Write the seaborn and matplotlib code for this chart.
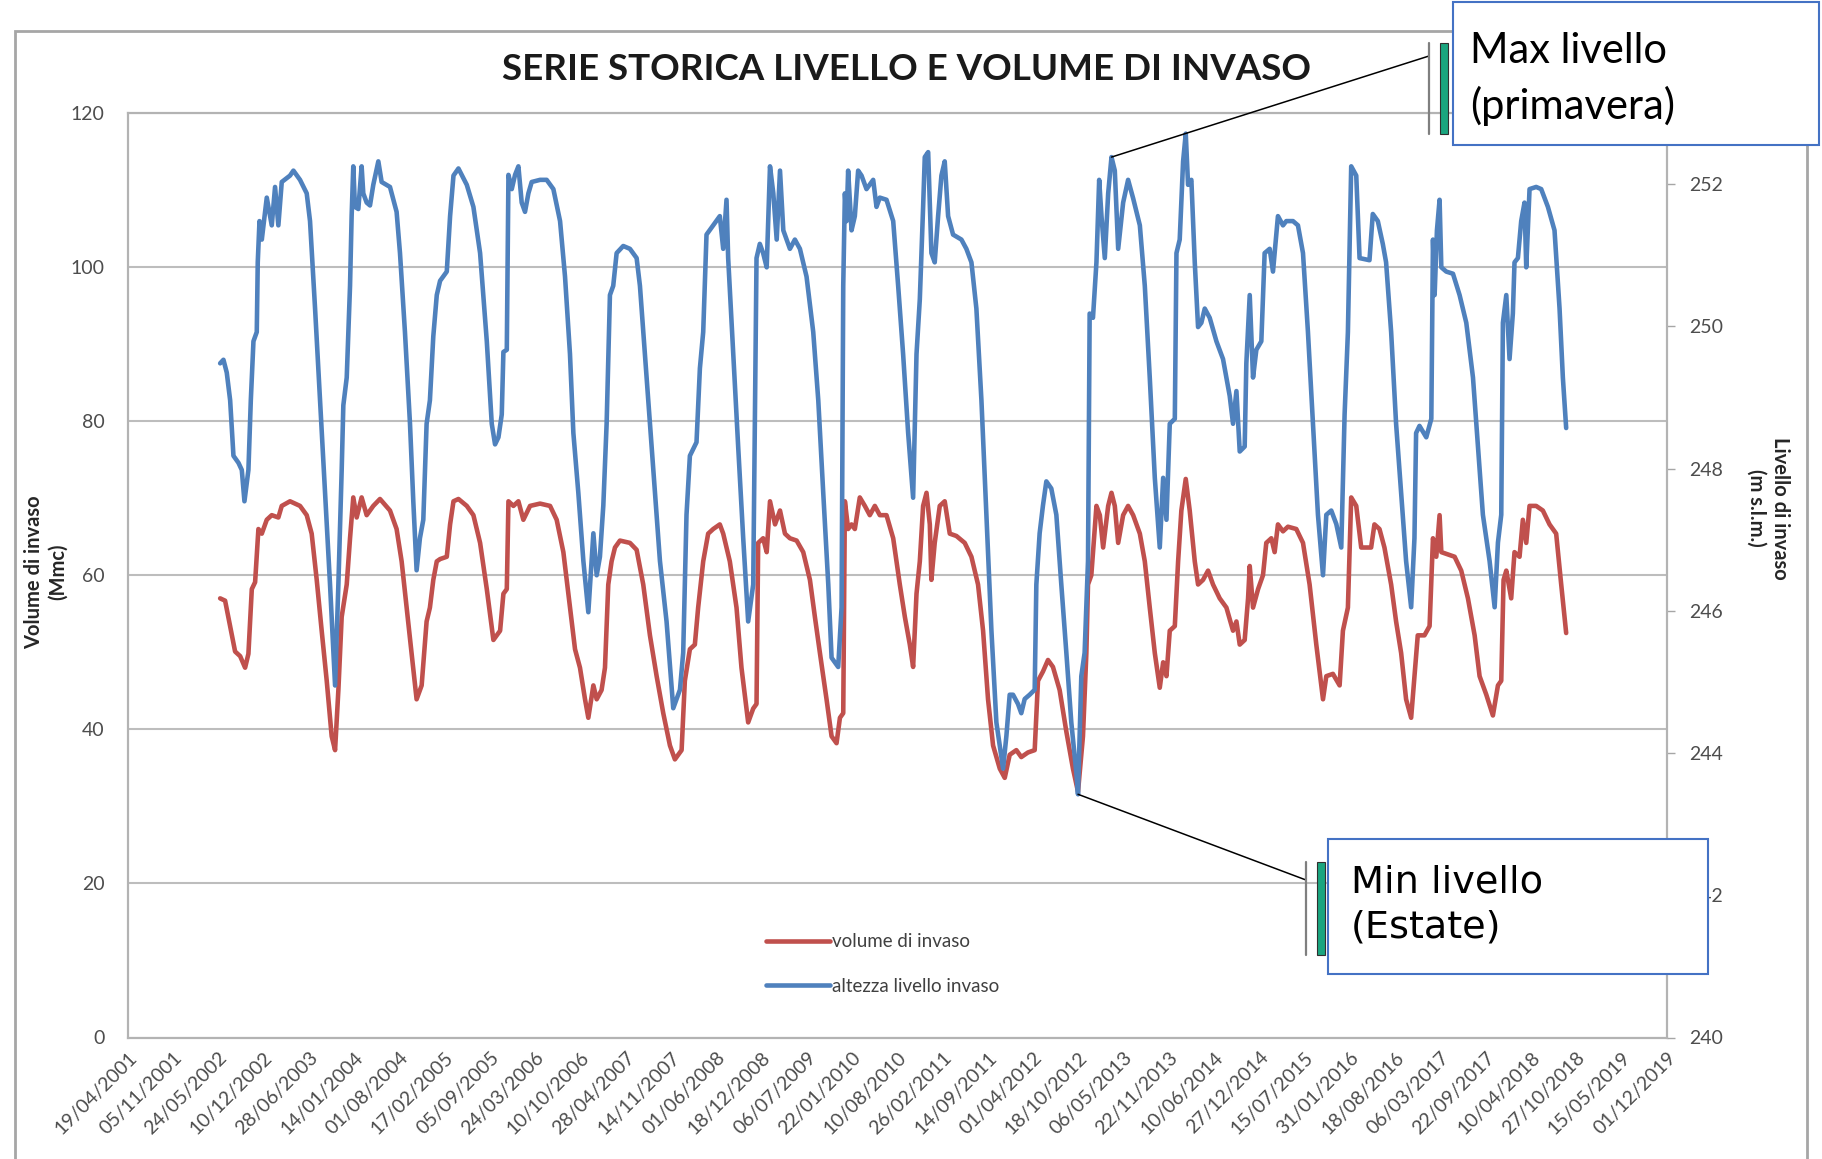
import numpy as np
import pandas as pd
import matplotlib
matplotlib.use("Agg")
import matplotlib.pyplot as plt
from matplotlib.patches import Rectangle
from matplotlib.lines import Line2D
import seaborn as sns

# --- data (dates as decimal years) ---
# volume di invaso (Mmc), left axis
vol_anno = [
    2002.411, 2002.471, 2002.532, 2002.592, 2002.653, 2002.713, 2002.753, 2002.794,
    2002.834, 2002.874, 2002.915, 2002.975, 2003.036, 2003.116, 2003.157, 2003.257,
    2003.378, 2003.459, 2003.519, 2003.580, 2003.640, 2003.701, 2003.761, 2003.802,
    2003.842, 2003.882, 2003.943, 2003.983, 2004.023, 2004.064, 2004.124, 2004.185,
    2004.265, 2004.346, 2004.467, 2004.547, 2004.608, 2004.668, 2004.729, 2004.789,
    2004.850, 2004.910, 2004.950, 2004.991, 2005.031, 2005.071, 2005.152, 2005.192,
    2005.233, 2005.293, 2005.394, 2005.474, 2005.555, 2005.636, 2005.716,
    2005.797, 2005.837, 2005.878, 2005.898, 2005.958, 2006.019, 2006.079, 2006.160,
    2006.281, 2006.402, 2006.482, 2006.563, 2006.643, 2006.704, 2006.764, 2006.825,
    2006.865, 2006.926, 2006.966, 2007.026, 2007.067, 2007.107, 2007.147, 2007.188,
    2007.248, 2007.369, 2007.450, 2007.530, 2007.611, 2007.692, 2007.772, 2007.853,
    2007.913, 2007.994, 2008.034, 2008.095, 2008.155, 2008.195, 2008.256, 2008.316,
    2008.377, 2008.457, 2008.498, 2008.578, 2008.659, 2008.719, 2008.800, 2008.861,
    2008.901, 2008.921, 2008.981, 2009.022, 2009.062, 2009.123, 2009.183, 2009.243,
    2009.303, 2009.384, 2009.464, 2009.545, 2009.605, 2009.666, 2009.746, 2009.807,
    2009.867, 2009.908, 2009.948, 2009.968, 2010.008, 2010.049, 2010.089, 2010.149,
    2010.210, 2010.270, 2010.331, 2010.391, 2010.472, 2010.553, 2010.633, 2010.694,
    2010.754, 2010.794, 2010.835, 2010.875, 2010.915, 2010.956, 2010.996, 2011.016,
    2011.056, 2011.117, 2011.177, 2011.238, 2011.318, 2011.419, 2011.500, 2011.580,
    2011.641, 2011.701, 2011.762, 2011.843, 2011.903, 2011.963, 2012.044, 2012.104,
    2012.185, 2012.266, 2012.306, 2012.366, 2012.427, 2012.487, 2012.568, 2012.649,
    2012.729,
    2012.790, 2012.850, 2012.891, 2012.911, 2012.951, 2013.011, 2013.052, 2013.092,
    2013.153, 2013.193, 2013.233, 2013.274, 2013.334, 2013.394, 2013.455, 2013.536,
    2013.596, 2013.656, 2013.717, 2013.777, 2013.818, 2013.858, 2013.898, 2013.959,
    2013.999, 2014.039, 2014.092, 2014.140, 2014.201, 2014.241, 2014.301, 2014.362,
    2014.422, 2014.503, 2014.584, 2014.664, 2014.705, 2014.745, 2014.805, 2014.846,
    2014.866, 2014.906, 2014.967, 2015.027, 2015.067, 2015.128, 2015.168, 2015.208,
    2015.269, 2015.329, 2015.430, 2015.511, 2015.591, 2015.672, 2015.753, 2015.793,
    2015.873, 2015.954, 2015.994, 2016.055, 2016.095, 2016.156, 2016.216,
    2016.336, 2016.376, 2016.437, 2016.497, 2016.578, 2016.638, 2016.699, 2016.759,
    2016.820, 2016.860, 2016.900, 2016.981, 2017.041, 2017.082, 2017.122, 2017.162,
    2017.183, 2017.263, 2017.344, 2017.424, 2017.505, 2017.586, 2017.646, 2017.727,
    2017.807, 2017.868, 2017.908, 2017.936, 2017.969, 2018.029, 2018.069, 2018.130,
    2018.170, 2018.211, 2018.251, 2018.331, 2018.412, 2018.493, 2018.573, 2018.634,
    2018.694,
]
vol_mmc = [
    57.0, 56.7, 53.4, 50.1, 49.5, 48.0, 49.8, 58.2,
    59.1, 66.0, 65.4, 67.2, 67.8, 67.5, 69.0, 69.6,
    69.0, 67.8, 65.4, 59.4, 52.8, 46.3, 39.1, 37.3,
    45.1, 54.6, 58.8, 64.8, 70.1, 67.5, 70.1, 67.8,
    69.0, 69.9, 68.4, 66.0, 61.8, 55.8, 49.8, 43.9,
    45.7, 54.0, 55.8, 59.4, 61.8, 62.1, 62.4, 66.6,
    69.6, 69.9, 69.0, 67.8, 64.2, 58.2, 51.6,
    52.8, 57.6, 58.2, 69.6, 69.0, 69.6, 67.2, 69.0,
    69.3, 69.0, 67.2, 63.0, 55.8, 50.4, 48.0, 43.9,
    41.5, 45.7, 43.9, 45.1, 48.0, 58.8, 61.8, 63.6,
    64.5, 64.2, 63.3, 58.8, 52.2, 46.9, 42.1, 37.9,
    36.1, 37.3, 46.3, 50.4, 51.0, 55.8, 61.8, 65.4,
    66.0, 66.6, 65.4, 61.8, 55.8, 48.0, 40.9, 42.7,
    43.3, 64.2, 64.8, 63.0, 69.6, 66.6, 68.4, 65.4,
    64.8, 64.5, 63.0, 59.4, 54.6, 49.9, 43.9, 39.1,
    38.2, 41.5, 42.1, 69.6, 66.0, 66.6, 66.0, 70.1,
    69.0, 67.8, 69.0, 67.8, 67.8, 64.8, 58.8, 54.6,
    51.0, 48.1, 57.6, 61.8, 69.0, 70.7, 66.6, 59.4,
    64.2, 69.0, 69.6, 65.4, 65.1, 64.2, 62.4, 58.8,
    52.8, 43.9, 37.9, 34.9, 33.7, 36.7, 37.3, 36.4,
    37.0, 37.3, 46.3, 47.5, 49.0, 48.1, 45.1, 39.7,
    34.9,
    31.9, 39.1, 49.9, 58.8, 60.0, 69.0, 67.8, 63.6,
    69.0, 70.7, 69.0, 64.2, 67.8, 69.0, 67.8, 65.4,
    61.8, 55.8, 49.9, 45.4, 48.7, 46.9, 52.8, 53.4,
    61.8, 68.4, 72.5, 68.4, 61.8, 58.8, 59.4, 60.6,
    58.8, 57.0, 55.8, 52.8, 54.0, 51.0, 51.6, 57.0,
    61.2, 55.8, 58.2, 60.0, 64.2, 64.8, 63.0, 66.6,
    65.7, 66.3, 66.0, 64.2, 58.8, 51.0, 43.9, 46.9,
    47.2, 45.7, 52.8, 55.8, 70.1, 69.0, 63.6,
    63.6, 66.6, 66.0, 63.6, 58.8, 54.0, 49.9, 43.9,
    41.5, 46.9, 52.2, 52.2, 53.4, 64.8, 62.4, 67.8,
    63.0, 62.7, 62.4, 60.6, 57.0, 52.2, 46.9, 44.5,
    41.8, 45.7, 46.3, 59.4, 60.6, 57.0, 63.0, 62.4,
    67.2, 64.2, 69.0, 69.0, 68.4, 66.6, 65.4, 58.8,
    52.5,
]

# altezza livello invaso (m s.l.m.), right axis
liv_anno = [
    2002.411, 2002.451, 2002.491, 2002.532, 2002.572, 2002.633, 2002.673, 2002.705,
    2002.753, 2002.782, 2002.814, 2002.854, 2002.866, 2002.887, 2002.915, 2002.955,
    2002.975, 2003.036, 2003.076, 2003.116, 2003.157, 2003.257, 2003.298, 2003.378,
    2003.459, 2003.499, 2003.560, 2003.620, 2003.681, 2003.741, 2003.802, 2003.842,
    2003.882, 2003.902, 2003.943, 2003.983, 2004.003, 2004.023, 2004.043, 2004.084,
    2004.124, 2004.144, 2004.185, 2004.225, 2004.265, 2004.326, 2004.366, 2004.467,
    2004.547, 2004.588, 2004.648, 2004.709, 2004.749, 2004.789, 2004.829, 2004.870,
    2004.910, 2004.950, 2004.991, 2005.031, 2005.071, 2005.152, 2005.192, 2005.233,
    2005.293, 2005.394, 2005.474, 2005.555, 2005.636, 2005.696, 2005.736,
    2005.777, 2005.817, 2005.837, 2005.878, 2005.898, 2005.938, 2005.978, 2006.019,
    2006.059, 2006.099, 2006.140, 2006.180, 2006.281, 2006.361, 2006.442, 2006.523,
    2006.583, 2006.643, 2006.684, 2006.744, 2006.805, 2006.865, 2006.905, 2006.926,
    2006.966, 2007.006, 2007.047, 2007.087, 2007.127, 2007.167, 2007.208, 2007.288,
    2007.369, 2007.450, 2007.490, 2007.550, 2007.611, 2007.671, 2007.732, 2007.812,
    2007.893, 2007.974, 2008.014, 2008.054, 2008.095, 2008.175, 2008.216, 2008.256,
    2008.296, 2008.377, 2008.457, 2008.498, 2008.538, 2008.558, 2008.619, 2008.679,
    2008.740, 2008.800, 2008.861, 2008.901, 2008.941, 2008.981, 2009.022, 2009.062,
    2009.102, 2009.143, 2009.183, 2009.223,
    2009.263, 2009.303, 2009.363, 2009.424, 2009.504, 2009.585, 2009.646, 2009.706,
    2009.767, 2009.807, 2009.887, 2009.928, 2009.948, 2009.968, 2009.988, 2010.008,
    2010.049, 2010.089, 2010.129, 2010.170, 2010.230, 2010.311, 2010.351, 2010.391,
    2010.472, 2010.553, 2010.613, 2010.673, 2010.734, 2010.794, 2010.835, 2010.875,
    2010.915, 2010.935, 2010.976, 2011.016, 2011.056, 2011.097, 2011.137, 2011.177,
    2011.218, 2011.278, 2011.379, 2011.439, 2011.500, 2011.560, 2011.621, 2011.681,
    2011.742, 2011.802, 2011.883, 2011.923, 2011.963, 2012.004, 2012.064, 2012.104,
    2012.145, 2012.205, 2012.266, 2012.286, 2012.326, 2012.366, 2012.407, 2012.467,
    2012.528, 2012.588, 2012.649, 2012.709, 2012.770,
    2012.790, 2012.830, 2012.870, 2012.911, 2012.931, 2012.971, 2013.011, 2013.044,
    2013.072, 2013.112, 2013.153, 2013.193, 2013.233, 2013.274, 2013.334, 2013.394,
    2013.455, 2013.536, 2013.596, 2013.656, 2013.717, 2013.777, 2013.818, 2013.858,
    2013.898, 2013.959, 2013.979, 2014.019, 2014.060, 2014.092, 2014.120, 2014.160,
    2014.201, 2014.241, 2014.281, 2014.322, 2014.382, 2014.463, 2014.543, 2014.624,
    2014.664, 2014.705, 2014.745, 2014.805, 2014.825, 2014.866, 2014.906, 2014.946,
    2015.007, 2015.047, 2015.108, 2015.148, 2015.208, 2015.269, 2015.309, 2015.390,
    2015.450, 2015.511, 2015.571, 2015.632, 2015.692, 2015.753, 2015.793, 2015.853,
    2015.914, 2015.974, 2016.015, 2016.055, 2016.095, 2016.156, 2016.196,
    2016.316, 2016.356, 2016.417, 2016.477, 2016.517, 2016.578, 2016.638, 2016.699,
    2016.759, 2016.820, 2016.860, 2016.880, 2016.921, 2017.001, 2017.062, 2017.082,
    2017.102, 2017.130, 2017.162, 2017.183, 2017.243, 2017.324, 2017.404, 2017.485,
    2017.566, 2017.626, 2017.686, 2017.767, 2017.828, 2017.868, 2017.908, 2017.928,
    2017.969, 2018.009, 2018.049, 2018.069, 2018.110, 2018.150, 2018.190, 2018.211,
    2018.251, 2018.331, 2018.392, 2018.473, 2018.553, 2018.614, 2018.654, 2018.694,
]
liv_m = [
    249.48, 249.53, 249.35, 248.96, 248.18, 248.08, 247.98, 247.54,
    247.98, 248.96, 249.79, 249.92, 250.90, 251.48, 251.22, 251.61,
    251.81, 251.42, 251.96, 251.42, 252.03, 252.12, 252.19, 252.06,
    251.87, 251.48, 250.25, 248.96, 247.66, 246.37, 244.95, 246.37,
    247.98, 248.89, 249.28, 250.57, 251.55, 252.25, 251.68, 251.65,
    252.25, 251.87, 251.74, 251.70, 251.99, 252.32, 252.03, 251.96,
    251.61, 251.03, 249.92, 248.63, 247.54, 246.57, 247.02, 247.28,
    248.63, 248.96, 249.86, 250.44, 250.64, 250.77, 251.55, 252.12,
    252.22, 251.99, 251.68, 251.03, 249.79, 248.63, 248.34,
    248.44, 248.76, 249.64, 249.67, 252.13, 251.93, 252.13, 252.25,
    251.74, 251.61, 251.87, 252.03, 252.06, 252.06, 251.93, 251.48,
    250.70, 249.61, 248.50, 247.66, 246.70, 245.98, 246.70, 247.09,
    246.50, 246.76, 247.48, 248.63, 250.44, 250.57, 251.03, 251.13,
    251.09, 250.96, 250.57, 249.61, 248.63, 247.66, 246.70, 245.85,
    244.63, 244.89, 245.41, 247.35, 248.18, 248.37, 249.41, 249.92,
    251.29, 251.42, 251.55, 251.09, 251.78, 250.96, 249.61, 248.31,
    247.02, 245.85, 246.37, 250.96, 251.16, 251.03, 250.83, 252.25,
    251.87, 251.22, 252.19, 251.35,
    251.22, 251.09, 251.22, 251.09, 250.70, 249.92, 248.96, 247.66,
    246.37, 245.34, 245.21, 246.05, 250.57, 251.87, 251.48, 252.19,
    251.35, 251.55, 252.19, 252.12, 251.93, 252.06, 251.68, 251.81,
    251.78, 251.48, 250.57, 249.61, 248.50, 247.59, 249.61, 250.38,
    251.68, 252.38, 252.45, 251.03, 250.90, 251.55, 252.12, 252.32,
    251.55, 251.29, 251.22, 251.09, 250.90, 250.25, 248.96, 247.35,
    245.72, 244.43, 243.78, 244.24, 244.82, 244.82, 244.69, 244.56,
    244.76, 244.82, 244.89, 246.37, 247.09, 247.48, 247.82, 247.72,
    247.35, 246.37, 245.41, 244.43, 243.72,
    243.42, 245.08, 245.41, 246.70, 250.18, 250.12, 250.90, 252.06,
    251.55, 250.96, 251.87, 252.38, 252.19, 251.09, 251.74, 252.06,
    251.80, 251.42, 250.57, 249.28, 247.87, 246.89, 247.87, 247.28,
    248.63, 248.70, 251.03, 251.22, 252.32, 252.71, 251.99, 252.06,
    250.90, 249.99, 250.05, 250.25, 250.12, 249.79, 249.54, 249.02,
    248.63, 249.09, 248.24, 248.31, 249.48, 250.44, 249.28, 249.67,
    249.79, 251.03, 251.09, 250.77, 251.55, 251.42, 251.48, 251.48,
    251.42, 251.03, 249.92, 248.63, 247.35, 246.50, 247.35, 247.41,
    247.22, 246.89, 248.76, 249.92, 252.25, 252.12, 250.96,
    250.93, 251.58, 251.48, 251.16, 250.90, 249.92, 248.63, 247.66,
    246.70, 246.05, 247.02, 248.50, 248.60, 248.44, 248.70, 251.22,
    250.44, 251.35, 251.78, 250.83, 250.77, 250.74, 250.44, 250.05,
    249.28, 248.31, 247.35, 246.70, 246.05, 246.96, 247.35, 250.05,
    250.44, 249.54, 250.18, 250.90, 250.96, 251.48, 251.74, 250.83,
    251.93, 251.96, 251.93, 251.68, 251.35, 250.25, 249.28, 248.57,
]

date_ticks = [
    "19/04/2001", "05/11/2001", "24/05/2002", "10/12/2002", "28/06/2003", "14/01/2004",
    "01/08/2004", "17/02/2005", "05/09/2005", "24/03/2006", "10/10/2006", "28/04/2007",
    "14/11/2007", "01/06/2008", "18/12/2008", "06/07/2009", "22/01/2010", "10/08/2010",
    "26/02/2011", "14/09/2011", "01/04/2012", "18/10/2012", "06/05/2013", "22/11/2013",
    "10/06/2014", "27/12/2014", "15/07/2015", "31/01/2016", "18/08/2016", "06/03/2017",
    "22/09/2017", "10/04/2018", "27/10/2018", "15/05/2019", "01/12/2019",
]
vol_ticks = [0, 20, 40, 60, 80, 100, 120]
liv_ticks = [240, 242, 244, 246, 248, 250, 252]

RED = "#c0504d"
BLUE = "#4f81bd"
W, H = 1822, 1159


def to_date(anni):
    out = []
    for a in anni:
        y = int(a)
        out.append(pd.Timestamp(year=y, month=1, day=1) + pd.Timedelta(days=(a - y) * 365.25))
    return pd.to_datetime(out)


def fx(px):
    return px / W


def fy(px):
    return 1 - px / H


sns.set_style("white")
plt.rcParams["font.family"] = ["Lato", "DejaVu Sans"]

df_vol = pd.DataFrame({"data": to_date(vol_anno), "volume": vol_mmc})
df_liv = pd.DataFrame({"data": to_date(liv_anno), "livello": liv_m})

fig = plt.figure(figsize=(W / 100, H / 100), dpi=100)
fig.patch.set_facecolor("white")
ax = fig.add_axes([fx(128), fy(1037.5), fx(1667) - fx(128), fy(113) - fy(1037.5)])
ax2 = ax.twinx()

sns.lineplot(data=df_vol, x="data", y="volume", ax=ax, color=RED, linewidth=3.3,
             estimator=None, sort=False)
sns.lineplot(data=df_liv, x="data", y="livello", ax=ax2, color=BLUE, linewidth=3.3,
             estimator=None, sort=False)

tick_dates = pd.to_datetime(date_ticks, format="%d/%m/%Y")
ax.set_xlim(tick_dates[0], tick_dates[-1])
ax.set_xticks(tick_dates)
ax.set_xticklabels(date_ticks, rotation=45, ha="right", rotation_mode="anchor")
ax.set_xticks(pd.date_range(tick_dates[0], tick_dates[-1], freq="50D"), minor=True)
ax.tick_params(axis="x", which="major", direction="inout", length=10, width=1.2,
               color="#a6a6a6", labelsize=14, labelcolor="#4d4d4d", pad=3)
ax.tick_params(axis="x", which="minor", direction="inout", length=6, width=1.0,
               color="#a6a6a6")

ax.set_ylim(0, 120)
ax.set_yticks(vol_ticks)
ax.tick_params(axis="y", length=0, labelsize=14, labelcolor="#4d4d4d", pad=17)
ax.grid(axis="y", color="#bdbdbd", linewidth=1.5)
ax.set_axisbelow(True)

ax2.set_ylim(240, 253)
ax2.set_yticks(liv_ticks)
ax2.tick_params(axis="y", direction="out", length=6, width=1.0, color="#a6a6a6",
                labelsize=14, labelcolor="#4d4d4d", pad=10)

for a in (ax, ax2):
    a.set_xlabel("")
    a.set_ylabel("")
    for s in a.spines.values():
        s.set_color("#b3b3b3")
        s.set_linewidth(1.5)

# chart border
fig.patches.append(Rectangle((fx(15), -0.02), fx(1807) - fx(15), 1.02 - 31 / H, fill=False,
                             edgecolor="#a6a6a6", linewidth=2, transform=fig.transFigure))

fig.text(fx(906), fy(70), "SERIE STORICA LIVELLO E VOLUME DI INVASO", ha="center",
         va="center", fontsize=26.5, fontweight="bold", color="#1a1a1a")
fig.text(fx(46), fy(572), "Volume di invaso\n(Mmc)", rotation=90, ha="center", va="center",
         fontsize=14.5, fontweight="bold", color="#262626", multialignment="center")
fig.text(fx(1768), fy(508), "Livello di invaso\n(m s.l.m.)", rotation=-90, ha="center",
         va="center", fontsize=14.5, fontweight="bold", color="#262626",
         multialignment="center")

handles = [Line2D([], [], color=RED, linewidth=3.3), Line2D([], [], color=BLUE, linewidth=3.3)]
fig.legend(handles, ["volume di invaso", "altezza livello invaso"], loc="center left",
           bbox_to_anchor=(fx(766), fy(964)), frameon=False, fontsize=13.5, handlelength=3.4,
           handletextpad=0.1, labelspacing=1.45, borderpad=0, borderaxespad=0,
           labelcolor="#404040")

# callout lines to max / min points
anni = np.array(liv_anno)
livs = np.array(liv_m)
dates = to_date(liv_anno)
win = (anni > 2013.0) & (anni < 2013.5)
i_max = np.where(win)[0][np.argmax(livs[win])]
i_min = int(np.argmin(livs))
ax2.annotate("", xy=(dates[i_max], livs[i_max]), xytext=(fx(1429), fy(56)),
             textcoords="figure fraction",
             arrowprops=dict(arrowstyle="-", color="black", lw=1.1, shrinkA=0, shrinkB=0))
ax2.annotate("", xy=(dates[i_min], livs[i_min]), xytext=(fx(1306), fy(880)),
             textcoords="figure fraction",
             arrowprops=dict(arrowstyle="-", color="black", lw=1.1, shrinkA=0, shrinkB=0))

for xl, xb, y0, y1 in [(1429, 1440, 43, 134), (1306, 1317, 862, 955)]:
    fig.lines.append(Line2D([fx(xl), fx(xl)], [fy(y0), fy(y1)], color="#7f7f7f", lw=1.6,
                            transform=fig.transFigure))
    fig.patches.append(Rectangle((fx(xb), fy(y1)), 8 / W, (y1 - y0) / H,
                                 facecolor="#1aa57f", edgecolor="#2f2f2f", lw=0.8,
                                 transform=fig.transFigure))

fig.patches.append(Rectangle((fx(1453), fy(145)), (1819 - 1453) / W, 143 / H,
                             facecolor="white", edgecolor="#4472c4", lw=1.5,
                             transform=fig.transFigure))
fig.text(fx(1470), fy(79), "Max livello\n(primavera)", ha="left", va="center",
         fontsize=30, linespacing=1.5, color="black")

fig.patches.append(Rectangle((fx(1328), fy(974)), (1708 - 1328) / W, (974 - 839) / H,
                             facecolor="white", edgecolor="#4472c4", lw=1.5,
                             transform=fig.transFigure))
fig.text(fx(1351), fy(905), "Min livello\n(Estate)", ha="left", va="center",
         fontsize=27.5, linespacing=1.3, color="black", family=["DejaVu Sans"])

fig.savefig("out.png", dpi=100, facecolor="white")
